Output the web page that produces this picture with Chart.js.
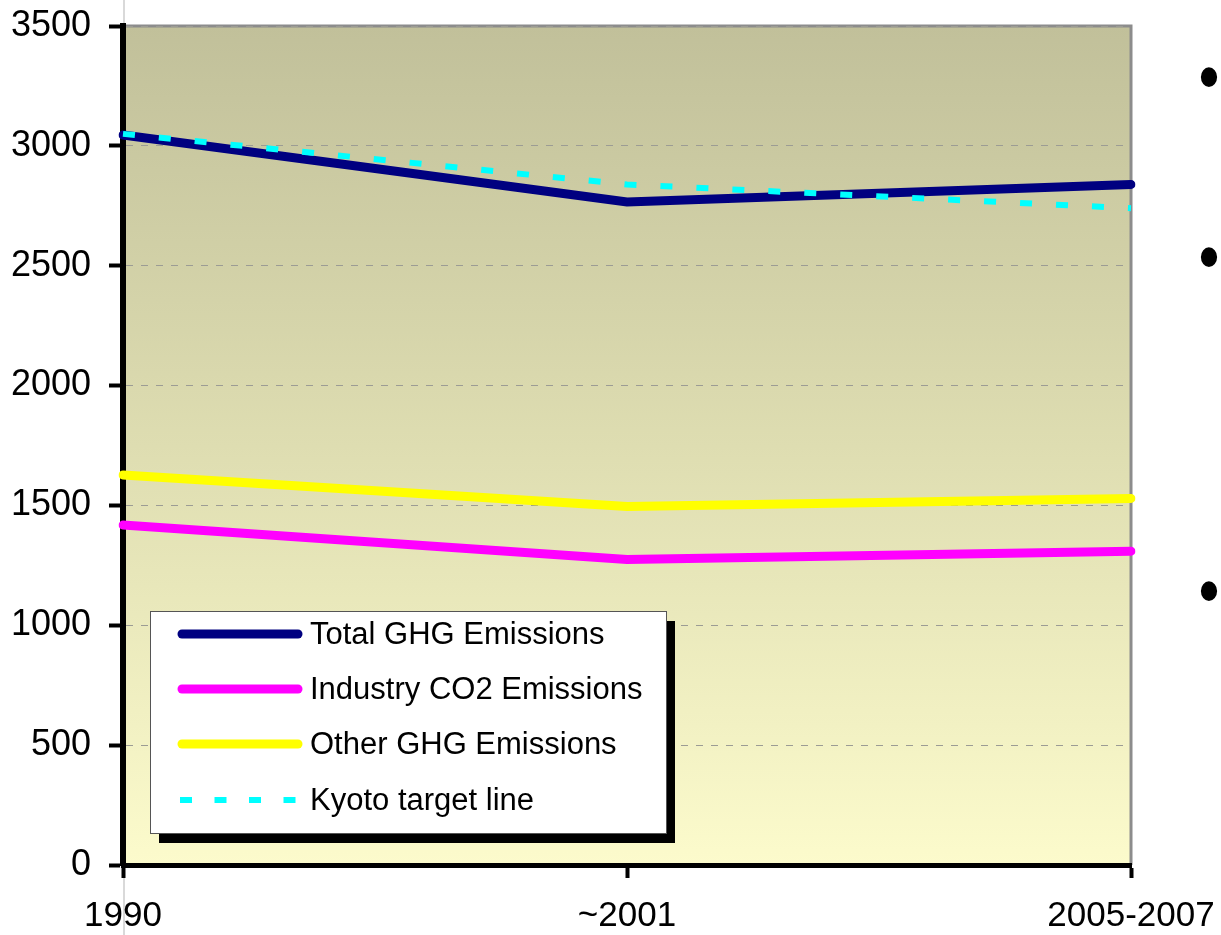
<!DOCTYPE html>
<html>
<head>
<meta charset="utf-8">
<script src="https://cdn.jsdelivr.net/npm/chart.js@4.4.0/dist/chart.umd.min.js"></script>
<style>
  html, body { margin: 0; padding: 0; background: #ffffff; }
  #wrap { position: relative; width: 1221px; height: 935px; overflow: hidden; }
  canvas { position: absolute; left: 0; top: 0; }
</style>
</head>
<body>
<div id="wrap">
  <canvas id="c" width="1221" height="935"></canvas>
</div>
<script>
// ---- data ----
const categories = ["1990", "~2001", "2005-2007"];
const seriesNames = ["Total GHG Emissions", "Industry CO2 Emissions", "Other GHG Emissions", "Kyoto target line"];
const totalGHG = [3045, 2766, 2839];
const industryCO2 = [1418, 1274, 1309];
const otherGHG = [1627, 1496, 1529];
const kyotoTarget = [3050, 2839, 2740];
const yTicks = [0, 500, 1000, 1500, 2000, 2500, 3000, 3500];
const bulletText = ["•", "•", "•"];

const colors = ["#000080", "#ff00ff", "#ffff00", "#00ffff"];
const FONT = '"Liberation Sans", Arial, sans-serif';

const bgPlugin = {
  id: 'bg',
  beforeDraw(chart) {
    const { ctx, chartArea: a } = chart;
    ctx.save();
    // faint slide guide line
    ctx.strokeStyle = '#d9d9d9';
    ctx.lineWidth = 2;
    ctx.beginPath();
    ctx.moveTo(124, 0); ctx.lineTo(124, 935);
    ctx.stroke();
    const g = ctx.createLinearGradient(0, a.top, 0, a.bottom);
    g.addColorStop(0, '#c1c09a');
    g.addColorStop(0.5, '#deddb1');
    g.addColorStop(1, '#fcfbcc');
    ctx.fillStyle = g;
    ctx.fillRect(a.left, a.top, a.right - a.left, a.bottom - a.top);
    // top and right gray border
    ctx.strokeStyle = '#8c8c8c';
    ctx.lineWidth = 3;
    ctx.beginPath();
    ctx.moveTo(a.left, a.top);
    ctx.lineTo(a.right, a.top);
    ctx.lineTo(a.right, a.bottom);
    ctx.stroke();
    ctx.restore();
  },
  afterDraw(chart) {
    // slide bullets to the right of the chart
    const ctx = chart.ctx;
    const ys = [76, 256, 590];
    ctx.save();
    ctx.font = '60px ' + FONT;
    ctx.fillStyle = '#000';
    ctx.textAlign = 'center';
    ctx.textBaseline = 'alphabetic';
    bulletText.forEach((t, i) => {
      const m = ctx.measureText(t);
      const asc = m.actualBoundingBoxAscent, desc = m.actualBoundingBoxDescent;
      ctx.save();
      ctx.translate(1209, ys[i]);
      ctx.scale(1, 1.2);
      ctx.fillText(t, 0, (asc - desc) / 2);
      ctx.restore();
    });
    ctx.restore();
  }
};

const legendPlugin = {
  id: 'customLegend',
  afterDatasetsDraw(chart) {
    const ctx = chart.ctx;
    const bx = 150, by = 611, bw = 516, bh = 222;
    ctx.save();
    ctx.fillStyle = '#000';
    ctx.fillRect(bx + 9, by + 10, bw, bh);
    ctx.fillStyle = '#fff';
    ctx.fillRect(bx, by, bw, bh);
    ctx.strokeStyle = '#555';
    ctx.lineWidth = 1;
    ctx.strokeRect(bx + 0.5, by + 0.5, bw, bh);
    const rows = [634, 689, 744, 800];
    ctx.font = '31px ' + FONT;
    ctx.textBaseline = 'middle';
    ctx.textAlign = 'left';
    chart.data.datasets.forEach((ds, i) => {
      const y = rows[i];
      ctx.strokeStyle = ds.borderColor;
      if (ds.borderDash && ds.borderDash.length) {
        ctx.lineWidth = 6;
        ctx.lineCap = 'butt';
        ctx.setLineDash([12, 22.5]);
        ctx.beginPath();
        ctx.moveTo(180, y); ctx.lineTo(297, y);
        ctx.stroke();
        ctx.setLineDash([]);
      } else {
        ctx.lineWidth = 9;
        ctx.lineCap = 'round';
        ctx.beginPath();
        ctx.moveTo(182, y); ctx.lineTo(298, y);
        ctx.stroke();
      }
      ctx.fillStyle = '#000';
      ctx.fillText(ds.label, 310, y + 1);
    });
    ctx.restore();
  }
};

const datasets = [
  { label: seriesNames[0], data: totalGHG, borderColor: colors[0], borderWidth: 9, order: 1 },
  { label: seriesNames[1], data: industryCO2, borderColor: colors[1], borderWidth: 9, order: 2 },
  { label: seriesNames[2], data: otherGHG, borderColor: colors[2], borderWidth: 9, order: 3 },
  { label: seriesNames[3], data: kyotoTarget, borderColor: colors[3], borderWidth: 6, borderDash: [12, 24], order: 0 }
].map(d => Object.assign({ pointRadius: 0, pointHoverRadius: 0, fill: false, tension: 0, borderCapStyle: 'round', borderJoinStyle: 'miter' }, d));
datasets[3].borderCapStyle = 'butt';

new Chart(document.getElementById('c'), {
  type: 'line',
  data: { labels: categories, datasets },
  options: {
    responsive: false,
    animation: false,
    events: [],
    layout: { padding: { left: 0, right: 90, top: 26, bottom: 0 } },
    plugins: { legend: { display: false }, tooltip: { enabled: false } },
    scales: {
      x: {
        offset: false,
        afterFit(s) { s.height = 70; s.paddingRight = 80; s.paddingLeft = 40; },
        grid: { drawOnChartArea: false, tickColor: '#000', tickWidth: 4, tickLength: 13 },
        border: { color: '#000', width: 5 },
        ticks: { color: '#000', font: { family: FONT, size: 35 }, padding: 17, maxRotation: 0, autoSkip: false }
      },
      y: {
        min: 0, max: 3500,
        afterFit(s) { s.width = 123; s.paddingTop = 20; s.paddingBottom = 20; },
        afterBuildTicks(s) { s.ticks = yTicks.map(v => ({ value: v })); },
        grid: { color: '#9c9c94', lineWidth: 1, tickColor: '#000', tickWidth: 4, tickLength: 14, tickBorderDash: [] },
        border: { color: '#000', width: 6, dash: [7, 8] },
        ticks: { color: '#000', font: { family: FONT, size: 36 }, padding: 18, callback: (v) => String(v) }
      }
    }
  },
  plugins: [bgPlugin, legendPlugin]
});
</script>
</body>
</html>
